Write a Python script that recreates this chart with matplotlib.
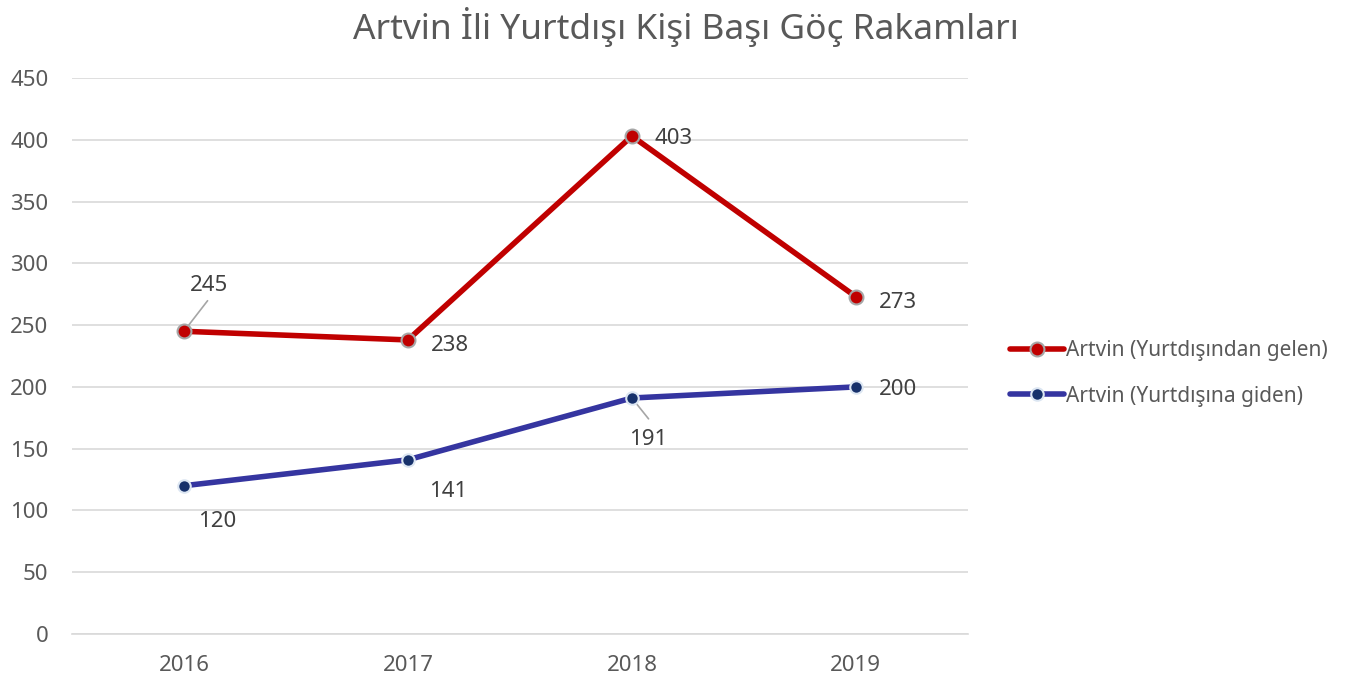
import matplotlib
matplotlib.use("Agg")
import matplotlib.pyplot as plt

years = ["2016", "2017", "2018", "2019"]
gelen = [245, 238, 403, 273]
giden = [120, 141, 191, 200]
title = "Artvin İli Yurtdışı Kişi Başı Göç Rakamları"
label_gelen = "Artvin (Yurtdışından gelen)"
label_giden = "Artvin (Yurtdışına giden)"

plt.rcParams['font.family'] = ['Noto Sans', 'DejaVu Sans']
TXT = "#404040"
TICK = "#595959"

fig = plt.figure(figsize=(13.58, 6.81), dpi=100)
ax = fig.add_axes([0.053, 0.069, 0.6597, 0.8165])

x = [i + 0.5 for i in range(len(years))]
l1, = ax.plot(x, gelen, color="#C00000", lw=4.0, marker="o", ms=10,
              mfc="#C00000", mec="#A6A6A6", mew=1.5, solid_capstyle="round", zorder=3)
l2, = ax.plot(x, giden, color="#3535A0", lw=4.0, marker="o", ms=9,
              mfc="#17316B", mec="#DCE6F2", mew=1.5, solid_capstyle="round", zorder=3)

ax.set_xlim(0, 4)
ax.set_ylim(0, 450)
ax.set_yticks(range(0, 451, 50))
ax.set_xticks(x)
ax.set_xticklabels(years)
ax.yaxis.grid(True, color="#D9D9D9", lw=1.2)
ax.set_axisbelow(True)
for s in ["top", "right", "left"]:
    ax.spines[s].set_visible(False)
ax.spines["bottom"].set_color("#D9D9D9")
ax.spines["bottom"].set_linewidth(1.2)
fs = 16
ax.tick_params(axis="both", length=0, labelsize=fs, labelcolor=TICK)
ax.tick_params(axis="y", pad=17)
ax.tick_params(axis="x", pad=15)

off_gelen = [(18, 33), (30, -4), (30, -2), (30, -4)]
for xi, v, (dx, dy) in zip(x, gelen, off_gelen):
    ax.annotate(str(v), (xi, v), xytext=(dx, dy), textcoords="offset points",
                ha="center", va="center", fontsize=fs, color=TXT)
off_giden = [(24, -26), (29, -23), (12, -30), (30, -2)]
for xi, v, (dx, dy) in zip(x, giden, off_giden):
    ax.annotate(str(v), (xi, v), xytext=(dx, dy), textcoords="offset points",
                ha="center", va="center", fontsize=fs, color=TXT)

ax.annotate("", (x[0], gelen[0]), xytext=(17, 22), textcoords="offset points",
            arrowprops=dict(arrowstyle="-", color="#A6A6A6", lw=1.2, shrinkA=0, shrinkB=3), zorder=2)
ax.annotate("", (x[2], giden[2]), xytext=(12, -15), textcoords="offset points",
            arrowprops=dict(arrowstyle="-", color="#A6A6A6", lw=1.2, shrinkA=0, shrinkB=3), zorder=2)

fig.legend([l1, l2], [label_gelen, label_giden], loc="center left",
           bbox_to_anchor=(0.7437, 0.4515), frameon=False, fontsize=15,
           labelcolor=TICK, handlelength=2.6, handletextpad=0.1, labelspacing=1.17,
           borderpad=0, borderaxespad=0)

fig.suptitle(title, x=0.505, y=0.99, va="top", fontsize=25.4, color=TICK)

fig.savefig("out.png", dpi=100)
